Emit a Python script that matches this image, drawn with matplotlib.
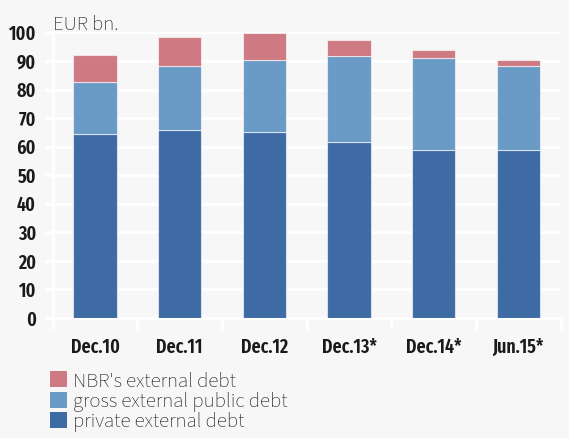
import matplotlib
matplotlib.use("Agg")
import matplotlib.pyplot as plt
from matplotlib.patches import Patch
import numpy as np

# External debt structure, EUR bn.
categories = ["Dec.10", "Dec.11", "Dec.12", "Dec.13*", "Dec.14*", "Jun.15*"]
private_debt = [64.5, 65.9, 65.2, 61.7, 58.9, 58.9]
public_debt = [18.3, 22.5, 25.3, 30.2, 32.3, 29.5]
nbr_debt = [9.2, 10.0, 9.3, 5.6, 2.8, 2.1]
series_labels = ["private external debt", "gross external public debt", "NBR's external debt"]
yticks = list(range(0, 101, 10))

bg = "#f7f7f7"
c_private = "#3f6ba5"
c_public = "#6a9bc7"
c_nbr = "#cf7a82"

cond_fams = ["Fira Sans Extra Condensed", "Fira Sans Condensed", "Roboto Condensed", "DejaVu Sans"]
light_fams = ["Source Sans 3", "Source Sans Pro", "Open Sans", "DejaVu Sans"]
tick_font = dict(family=cond_fams, weight=600, size=14)

fig = plt.figure(figsize=(5.69, 4.38), dpi=100, facecolor=bg)
ax = fig.add_axes([0.0926, 0.274, 0.8928, 0.652], facecolor=bg)

x = np.arange(len(categories))
w = 0.51
ec = (1, 1, 1, 0.6)
ax.bar(x, private_debt, w, color=c_private, edgecolor=ec, linewidth=0.8, zorder=3)
ax.bar(x, public_debt, w, bottom=private_debt, color=c_public, edgecolor=ec, linewidth=0.8, zorder=3)
bottom2 = np.array(private_debt) + np.array(public_debt)
ax.bar(x, nbr_debt, w, bottom=bottom2, color=c_nbr, edgecolor=ec, linewidth=0.8, zorder=3)

ax.set_xlim(-0.5, len(categories) - 0.5)
ax.set_ylim(0, 100)
ax.set_yticks(yticks)
ax.set_yticklabels([str(v) for v in yticks], **tick_font)
ax.yaxis.grid(True, color="white", linewidth=2, zorder=0)
ax.set_axisbelow(True)

# category labels centred between boundary ticks
ax.set_xticks(x)
ax.set_xticklabels(categories, **tick_font)
ax.set_xticks(np.arange(-0.5, len(categories)), minor=True)
ax.tick_params(axis="x", which="major", length=0, pad=14)
ax.tick_params(axis="x", which="minor", length=8, width=2, color="white")
ax.tick_params(axis="y", length=6, width=2, color="white", pad=6)
for lbl in ax.get_yticklabels() + ax.get_xticklabels():
    lbl.set_color("#1a1a1a")

for side in ["top", "right"]:
    ax.spines[side].set_visible(False)
for side in ["left", "bottom"]:
    ax.spines[side].set_color("white")
    ax.spines[side].set_linewidth(2)

fig.text(0.094, 0.943, "EUR bn.", ha="left", va="center", color="#222222",
         family=light_fams, weight=300, size=15)

handles = [Patch(facecolor=c_nbr), Patch(facecolor=c_public), Patch(facecolor=c_private)]
labels = [series_labels[2], series_labels[1], series_labels[0]]
leg = fig.legend(handles, labels, loc="upper left", bbox_to_anchor=(0.088, 0.152),
                 frameon=False, handlelength=0.8, handleheight=0.8, handletextpad=0.3,
                 labelspacing=0.0, borderaxespad=0, borderpad=0,
                 prop=dict(family=light_fams, weight=300, size=15))
for t in leg.get_texts():
    t.set_color("#222222")

fig.savefig("out.png", dpi=100, facecolor=bg)
